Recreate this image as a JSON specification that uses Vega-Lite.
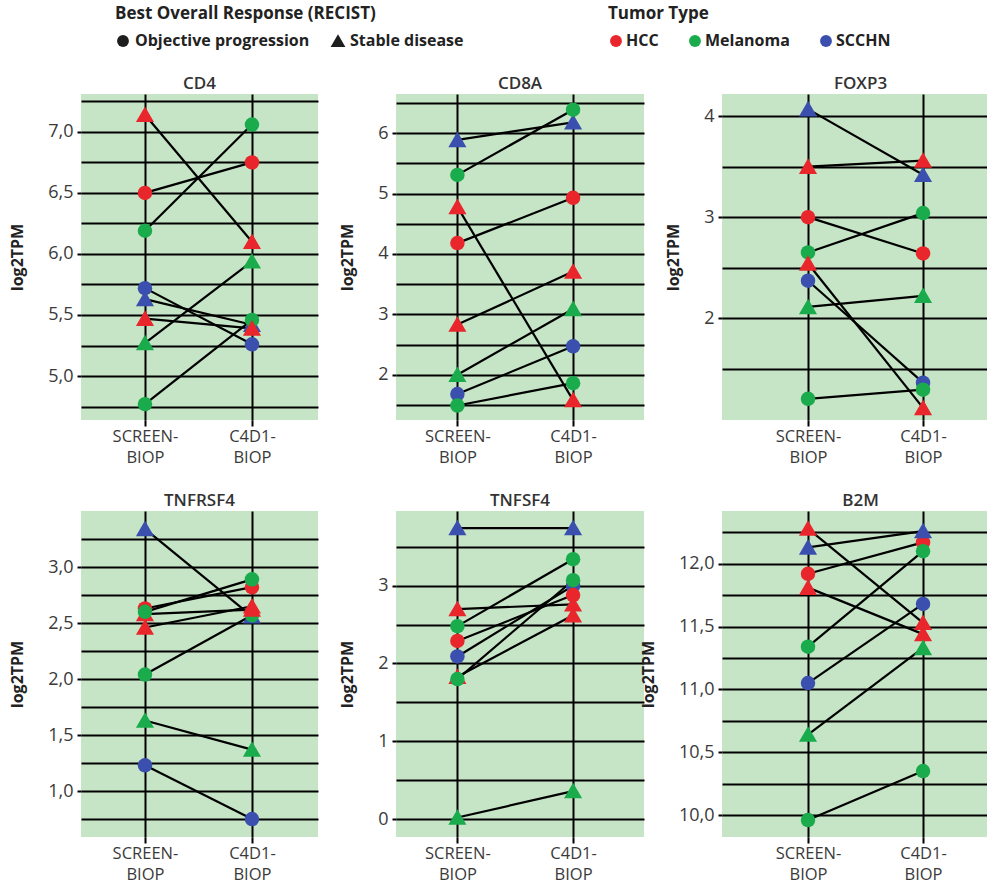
{
  "$schema": "https://vega.github.io/schema/vega-lite/v6.json",
  "padding": {"left": 9, "top": 6, "right": 0, "bottom": 0},
  "datasets": {
    "expr": [
      {"gene":"CD4","patient":"P4","tumor":"SCCHN","response":"Objective progression","time":"SCREEN-BIOP","value":5.72},
      {"gene":"CD4","patient":"P4","tumor":"SCCHN","response":"Objective progression","time":"C4D1-BIOP","value":5.26},
      {"gene":"CD4","patient":"P5","tumor":"SCCHN","response":"Stable disease","time":"SCREEN-BIOP","value":5.63},
      {"gene":"CD4","patient":"P5","tumor":"SCCHN","response":"Stable disease","time":"C4D1-BIOP","value":5.42},
      {"gene":"CD4","patient":"P3","tumor":"Melanoma","response":"Objective progression","time":"SCREEN-BIOP","value":6.19},
      {"gene":"CD4","patient":"P3","tumor":"Melanoma","response":"Objective progression","time":"C4D1-BIOP","value":7.06},
      {"gene":"CD4","patient":"P7","tumor":"Melanoma","response":"Stable disease","time":"SCREEN-BIOP","value":5.27},
      {"gene":"CD4","patient":"P7","tumor":"Melanoma","response":"Stable disease","time":"C4D1-BIOP","value":5.94},
      {"gene":"CD4","patient":"P8","tumor":"Melanoma","response":"Objective progression","time":"SCREEN-BIOP","value":4.77},
      {"gene":"CD4","patient":"P8","tumor":"Melanoma","response":"Objective progression","time":"C4D1-BIOP","value":5.46},
      {"gene":"CD4","patient":"P1","tumor":"HCC","response":"Stable disease","time":"SCREEN-BIOP","value":7.14},
      {"gene":"CD4","patient":"P1","tumor":"HCC","response":"Stable disease","time":"C4D1-BIOP","value":6.10},
      {"gene":"CD4","patient":"P2","tumor":"HCC","response":"Objective progression","time":"SCREEN-BIOP","value":6.50},
      {"gene":"CD4","patient":"P2","tumor":"HCC","response":"Objective progression","time":"C4D1-BIOP","value":6.75},
      {"gene":"CD4","patient":"P6","tumor":"HCC","response":"Stable disease","time":"SCREEN-BIOP","value":5.47},
      {"gene":"CD4","patient":"P6","tumor":"HCC","response":"Stable disease","time":"C4D1-BIOP","value":5.39},

      {"gene":"CD8A","patient":"P4","tumor":"SCCHN","response":"Objective progression","time":"SCREEN-BIOP","value":1.68},
      {"gene":"CD8A","patient":"P4","tumor":"SCCHN","response":"Objective progression","time":"C4D1-BIOP","value":2.47},
      {"gene":"CD8A","patient":"P5","tumor":"SCCHN","response":"Stable disease","time":"SCREEN-BIOP","value":5.89},
      {"gene":"CD8A","patient":"P5","tumor":"SCCHN","response":"Stable disease","time":"C4D1-BIOP","value":6.18},
      {"gene":"CD8A","patient":"P3","tumor":"Melanoma","response":"Objective progression","time":"SCREEN-BIOP","value":5.31},
      {"gene":"CD8A","patient":"P3","tumor":"Melanoma","response":"Objective progression","time":"C4D1-BIOP","value":6.39},
      {"gene":"CD8A","patient":"P7","tumor":"Melanoma","response":"Stable disease","time":"SCREEN-BIOP","value":2.00},
      {"gene":"CD8A","patient":"P7","tumor":"Melanoma","response":"Stable disease","time":"C4D1-BIOP","value":3.09},
      {"gene":"CD8A","patient":"P8","tumor":"Melanoma","response":"Objective progression","time":"SCREEN-BIOP","value":1.49},
      {"gene":"CD8A","patient":"P8","tumor":"Melanoma","response":"Objective progression","time":"C4D1-BIOP","value":1.86},
      {"gene":"CD8A","patient":"P1","tumor":"HCC","response":"Stable disease","time":"SCREEN-BIOP","value":4.78},
      {"gene":"CD8A","patient":"P1","tumor":"HCC","response":"Stable disease","time":"C4D1-BIOP","value":1.58},
      {"gene":"CD8A","patient":"P2","tumor":"HCC","response":"Objective progression","time":"SCREEN-BIOP","value":4.18},
      {"gene":"CD8A","patient":"P2","tumor":"HCC","response":"Objective progression","time":"C4D1-BIOP","value":4.93},
      {"gene":"CD8A","patient":"P6","tumor":"HCC","response":"Stable disease","time":"SCREEN-BIOP","value":2.83},
      {"gene":"CD8A","patient":"P6","tumor":"HCC","response":"Stable disease","time":"C4D1-BIOP","value":3.71},

      {"gene":"FOXP3","patient":"P4","tumor":"SCCHN","response":"Objective progression","time":"SCREEN-BIOP","value":2.37},
      {"gene":"FOXP3","patient":"P4","tumor":"SCCHN","response":"Objective progression","time":"C4D1-BIOP","value":1.36},
      {"gene":"FOXP3","patient":"P5","tumor":"SCCHN","response":"Stable disease","time":"SCREEN-BIOP","value":4.07},
      {"gene":"FOXP3","patient":"P5","tumor":"SCCHN","response":"Stable disease","time":"C4D1-BIOP","value":3.42},
      {"gene":"FOXP3","patient":"P3","tumor":"Melanoma","response":"Objective progression","time":"SCREEN-BIOP","value":2.65},
      {"gene":"FOXP3","patient":"P3","tumor":"Melanoma","response":"Objective progression","time":"C4D1-BIOP","value":3.04},
      {"gene":"FOXP3","patient":"P7","tumor":"Melanoma","response":"Stable disease","time":"SCREEN-BIOP","value":2.11},
      {"gene":"FOXP3","patient":"P7","tumor":"Melanoma","response":"Stable disease","time":"C4D1-BIOP","value":2.22},
      {"gene":"FOXP3","patient":"P8","tumor":"Melanoma","response":"Objective progression","time":"SCREEN-BIOP","value":1.20},
      {"gene":"FOXP3","patient":"P8","tumor":"Melanoma","response":"Objective progression","time":"C4D1-BIOP","value":1.29},
      {"gene":"FOXP3","patient":"P1","tumor":"HCC","response":"Stable disease","time":"SCREEN-BIOP","value":2.54},
      {"gene":"FOXP3","patient":"P1","tumor":"HCC","response":"Stable disease","time":"C4D1-BIOP","value":1.11},
      {"gene":"FOXP3","patient":"P2","tumor":"HCC","response":"Objective progression","time":"SCREEN-BIOP","value":3.00},
      {"gene":"FOXP3","patient":"P2","tumor":"HCC","response":"Objective progression","time":"C4D1-BIOP","value":2.64},
      {"gene":"FOXP3","patient":"P6","tumor":"HCC","response":"Stable disease","time":"SCREEN-BIOP","value":3.50},
      {"gene":"FOXP3","patient":"P6","tumor":"HCC","response":"Stable disease","time":"C4D1-BIOP","value":3.56},

      {"gene":"TNFRSF4","patient":"P4","tumor":"SCCHN","response":"Objective progression","time":"SCREEN-BIOP","value":1.23},
      {"gene":"TNFRSF4","patient":"P4","tumor":"SCCHN","response":"Objective progression","time":"C4D1-BIOP","value":0.75},
      {"gene":"TNFRSF4","patient":"P5","tumor":"SCCHN","response":"Stable disease","time":"SCREEN-BIOP","value":3.34},
      {"gene":"TNFRSF4","patient":"P5","tumor":"SCCHN","response":"Stable disease","time":"C4D1-BIOP","value":2.56},
      {"gene":"TNFRSF4","patient":"P8","tumor":"Melanoma","response":"Objective progression","time":"SCREEN-BIOP","value":2.04},
      {"gene":"TNFRSF4","patient":"P8","tumor":"Melanoma","response":"Objective progression","time":"C4D1-BIOP","value":2.57},
      {"gene":"TNFRSF4","patient":"P7","tumor":"Melanoma","response":"Stable disease","time":"SCREEN-BIOP","value":1.63},
      {"gene":"TNFRSF4","patient":"P7","tumor":"Melanoma","response":"Stable disease","time":"C4D1-BIOP","value":1.37},
      {"gene":"TNFRSF4","patient":"P1","tumor":"HCC","response":"Stable disease","time":"SCREEN-BIOP","value":2.58},
      {"gene":"TNFRSF4","patient":"P1","tumor":"HCC","response":"Stable disease","time":"C4D1-BIOP","value":2.62},
      {"gene":"TNFRSF4","patient":"P6","tumor":"HCC","response":"Stable disease","time":"SCREEN-BIOP","value":2.46},
      {"gene":"TNFRSF4","patient":"P6","tumor":"HCC","response":"Stable disease","time":"C4D1-BIOP","value":2.65},
      {"gene":"TNFRSF4","patient":"P2","tumor":"HCC","response":"Objective progression","time":"SCREEN-BIOP","value":2.63},
      {"gene":"TNFRSF4","patient":"P2","tumor":"HCC","response":"Objective progression","time":"C4D1-BIOP","value":2.82},
      {"gene":"TNFRSF4","patient":"P3","tumor":"Melanoma","response":"Objective progression","time":"SCREEN-BIOP","value":2.60},
      {"gene":"TNFRSF4","patient":"P3","tumor":"Melanoma","response":"Objective progression","time":"C4D1-BIOP","value":2.89},

      {"gene":"TNFSF4","patient":"P4","tumor":"SCCHN","response":"Objective progression","time":"SCREEN-BIOP","value":2.09},
      {"gene":"TNFSF4","patient":"P4","tumor":"SCCHN","response":"Objective progression","time":"C4D1-BIOP","value":3.00},
      {"gene":"TNFSF4","patient":"P5","tumor":"SCCHN","response":"Stable disease","time":"SCREEN-BIOP","value":3.74},
      {"gene":"TNFSF4","patient":"P5","tumor":"SCCHN","response":"Stable disease","time":"C4D1-BIOP","value":3.74},
      {"gene":"TNFSF4","patient":"P1","tumor":"HCC","response":"Stable disease","time":"SCREEN-BIOP","value":1.83},
      {"gene":"TNFSF4","patient":"P1","tumor":"HCC","response":"Stable disease","time":"C4D1-BIOP","value":2.62},
      {"gene":"TNFSF4","patient":"P2","tumor":"HCC","response":"Objective progression","time":"SCREEN-BIOP","value":2.29},
      {"gene":"TNFSF4","patient":"P2","tumor":"HCC","response":"Objective progression","time":"C4D1-BIOP","value":2.88},
      {"gene":"TNFSF4","patient":"P6","tumor":"HCC","response":"Stable disease","time":"SCREEN-BIOP","value":2.70},
      {"gene":"TNFSF4","patient":"P6","tumor":"HCC","response":"Stable disease","time":"C4D1-BIOP","value":2.76},
      {"gene":"TNFSF4","patient":"P3","tumor":"Melanoma","response":"Objective progression","time":"SCREEN-BIOP","value":2.48},
      {"gene":"TNFSF4","patient":"P3","tumor":"Melanoma","response":"Objective progression","time":"C4D1-BIOP","value":3.34},
      {"gene":"TNFSF4","patient":"P7","tumor":"Melanoma","response":"Stable disease","time":"SCREEN-BIOP","value":0.02},
      {"gene":"TNFSF4","patient":"P7","tumor":"Melanoma","response":"Stable disease","time":"C4D1-BIOP","value":0.36},
      {"gene":"TNFSF4","patient":"P8","tumor":"Melanoma","response":"Objective progression","time":"SCREEN-BIOP","value":1.80},
      {"gene":"TNFSF4","patient":"P8","tumor":"Melanoma","response":"Objective progression","time":"C4D1-BIOP","value":3.07},

      {"gene":"B2M","patient":"P4","tumor":"SCCHN","response":"Objective progression","time":"SCREEN-BIOP","value":11.05},
      {"gene":"B2M","patient":"P4","tumor":"SCCHN","response":"Objective progression","time":"C4D1-BIOP","value":11.68},
      {"gene":"B2M","patient":"P1","tumor":"HCC","response":"Stable disease","time":"SCREEN-BIOP","value":12.28},
      {"gene":"B2M","patient":"P1","tumor":"HCC","response":"Stable disease","time":"C4D1-BIOP","value":11.53},
      {"gene":"B2M","patient":"P2","tumor":"HCC","response":"Objective progression","time":"SCREEN-BIOP","value":11.92},
      {"gene":"B2M","patient":"P2","tumor":"HCC","response":"Objective progression","time":"C4D1-BIOP","value":12.17},
      {"gene":"B2M","patient":"P6","tumor":"HCC","response":"Stable disease","time":"SCREEN-BIOP","value":11.81},
      {"gene":"B2M","patient":"P6","tumor":"HCC","response":"Stable disease","time":"C4D1-BIOP","value":11.44},
      {"gene":"B2M","patient":"P5","tumor":"SCCHN","response":"Stable disease","time":"SCREEN-BIOP","value":12.13},
      {"gene":"B2M","patient":"P5","tumor":"SCCHN","response":"Stable disease","time":"C4D1-BIOP","value":12.26},
      {"gene":"B2M","patient":"P3","tumor":"Melanoma","response":"Objective progression","time":"SCREEN-BIOP","value":11.34},
      {"gene":"B2M","patient":"P3","tumor":"Melanoma","response":"Objective progression","time":"C4D1-BIOP","value":12.10},
      {"gene":"B2M","patient":"P7","tumor":"Melanoma","response":"Stable disease","time":"SCREEN-BIOP","value":10.64},
      {"gene":"B2M","patient":"P7","tumor":"Melanoma","response":"Stable disease","time":"C4D1-BIOP","value":11.33},
      {"gene":"B2M","patient":"P8","tumor":"Melanoma","response":"Objective progression","time":"SCREEN-BIOP","value":9.96},
      {"gene":"B2M","patient":"P8","tumor":"Melanoma","response":"Objective progression","time":"C4D1-BIOP","value":10.35}
    ]
  },
  "data": {"name": "expr"},
  "columns": 3,
  "bounds": "flush",
  "align": "each",
  "spacing": {"row": 91, "column": 78},
  "resolve": {"scale": {"color": "shared", "shape": "shared", "x": "independent", "y": "independent"}},
  "concat": [
    {
      "title": "CD4", "width": 237, "height": 326,
      "transform": [{"filter": "datum.gene === 'CD4'"}],
      "encoding": {
        "x": {"field": "time", "type": "nominal", "sort": ["SCREEN-BIOP", "C4D1-BIOP"], "scale": {"type": "point", "padding": 0.6075, "align": 0.492},
              "axis": {"title": null, "labelExpr": "datum.value == 'SCREEN-BIOP' ? ['SCREEN-', 'BIOP'] : ['C4D1-', 'BIOP']"}},
        "y": {"field": "value", "type": "quantitative", "scale": {"domain": [4.64, 7.31], "nice": false, "zero": false},
              "axis": {"title": "log2TPM", "values": [4.75, 5, 5.25, 5.5, 5.75, 6, 6.25, 6.5, 6.75, 7, 7.25],
                       "labelExpr": "datum.value % 0.5 === 0 ? replace(format(datum.value, '.1f'), '.', ',') : ''",
                       "tickOpacity": {"condition": {"test": "datum.value % 0.5 === 0", "value": 1}, "value": 0}}}
      },
      "layer": [
        {"mark": {"type": "line", "color": "black", "strokeWidth": 2.2}, "encoding": {"detail": {"field": "patient"}}},
        {"mark": {"type": "point", "filled": true, "size": 210, "opacity": 1},
         "encoding": {
           "color": {"field": "tumor", "type": "nominal", "scale": {"domain": ["HCC", "Melanoma", "SCCHN"], "range": ["#e8262b", "#1aab4c", "#3b4fae"]},
                     "legend": {"title": "Tumor Type", "orient": "none", "legendX": 527, "legendY": -88, "symbolType": "circle", "labelOffset": 2, "symbolStrokeWidth": 0, "columnPadding": 28}},
           "shape": {"field": "response", "type": "nominal", "scale": {"domain": ["Objective progression", "Stable disease"], "range": ["circle", "M0,-1.15L1.25,1L-1.25,1Z"]},
                     "legend": {"title": "Best Overall Response (RECIST)", "orient": "none", "legendX": 34, "legendY": -88, "symbolFillColor": "#1e1e1e", "symbolStrokeWidth": 0, "labelOffset": 4}}
         }}
      ]
    },
    {
      "title": "CD8A", "width": 248, "height": 326,
      "transform": [{"filter": "datum.gene === 'CD8A'"}],
      "encoding": {
        "x": {"field": "time", "type": "nominal", "sort": ["SCREEN-BIOP", "C4D1-BIOP"], "scale": {"type": "point", "padding": 0.572, "align": 0.464},
              "axis": {"title": null, "labelExpr": "datum.value == 'SCREEN-BIOP' ? ['SCREEN-', 'BIOP'] : ['C4D1-', 'BIOP']"}},
        "y": {"field": "value", "type": "quantitative", "scale": {"domain": [1.25, 6.65], "nice": false, "zero": false},
              "axis": {"title": "log2TPM", "values": [1.5, 2, 2.5, 3, 3.5, 4, 4.5, 5, 5.5, 6, 6.5],
                       "labelExpr": "datum.value % 1 === 0 ? format(datum.value, 'd') : ''",
                       "tickOpacity": {"condition": {"test": "datum.value % 1 === 0", "value": 1}, "value": 0}}}
      },
      "layer": [
        {"mark": {"type": "line", "color": "black", "strokeWidth": 2.2}, "encoding": {"detail": {"field": "patient"}}},
        {"mark": {"type": "point", "filled": true, "size": 210, "opacity": 1},
         "encoding": {
           "color": {"field": "tumor", "type": "nominal"},
           "shape": {"field": "response", "type": "nominal"}
         }}
      ]
    },
    {
      "title": "FOXP3", "width": 277, "height": 326,
      "transform": [{"filter": "datum.gene === 'FOXP3'"}],
      "encoding": {
        "x": {"field": "time", "type": "nominal", "sort": ["SCREEN-BIOP", "C4D1-BIOP"], "scale": {"type": "point", "padding": 0.704, "align": 0.531},
              "axis": {"title": null, "labelExpr": "datum.value == 'SCREEN-BIOP' ? ['SCREEN-', 'BIOP'] : ['C4D1-', 'BIOP']"}},
        "y": {"field": "value", "type": "quantitative", "scale": {"domain": [0.99, 4.22], "nice": false, "zero": false},
              "axis": {"title": "log2TPM", "values": [1.5, 2, 2.5, 3, 3.5, 4],
                       "labelExpr": "datum.value % 1 === 0 ? format(datum.value, 'd') : ''",
                       "tickOpacity": {"condition": {"test": "datum.value % 1 === 0", "value": 1}, "value": 0}}}
      },
      "layer": [
        {"mark": {"type": "line", "color": "black", "strokeWidth": 2.2}, "encoding": {"detail": {"field": "patient"}}},
        {"mark": {"type": "point", "filled": true, "size": 210, "opacity": 1},
         "encoding": {
           "color": {"field": "tumor", "type": "nominal"},
           "shape": {"field": "response", "type": "nominal"}
         }}
      ]
    },
    {
      "title": "TNFRSF4", "width": 237, "height": 326,
      "transform": [{"filter": "datum.gene === 'TNFRSF4'"}],
      "encoding": {
        "x": {"field": "time", "type": "nominal", "sort": ["SCREEN-BIOP", "C4D1-BIOP"], "scale": {"type": "point", "padding": 0.6075, "align": 0.492},
              "axis": {"title": null, "labelExpr": "datum.value == 'SCREEN-BIOP' ? ['SCREEN-', 'BIOP'] : ['C4D1-', 'BIOP']"}},
        "y": {"field": "value", "type": "quantitative", "scale": {"domain": [0.59, 3.5], "nice": false, "zero": false},
              "axis": {"title": "log2TPM", "values": [0.75, 1, 1.25, 1.5, 1.75, 2, 2.25, 2.5, 2.75, 3, 3.25],
                       "labelExpr": "datum.value % 0.5 === 0 ? replace(format(datum.value, '.1f'), '.', ',') : ''",
                       "tickOpacity": {"condition": {"test": "datum.value % 0.5 === 0", "value": 1}, "value": 0}}}
      },
      "layer": [
        {"mark": {"type": "line", "color": "black", "strokeWidth": 2.2}, "encoding": {"detail": {"field": "patient"}}},
        {"mark": {"type": "point", "filled": true, "size": 210, "opacity": 1},
         "encoding": {
           "color": {"field": "tumor", "type": "nominal"},
           "shape": {"field": "response", "type": "nominal"}
         }}
      ]
    },
    {
      "title": "TNFSF4", "width": 248, "height": 326,
      "transform": [{"filter": "datum.gene === 'TNFSF4'"}],
      "encoding": {
        "x": {"field": "time", "type": "nominal", "sort": ["SCREEN-BIOP", "C4D1-BIOP"], "scale": {"type": "point", "padding": 0.572, "align": 0.464},
              "axis": {"title": null, "labelExpr": "datum.value == 'SCREEN-BIOP' ? ['SCREEN-', 'BIOP'] : ['C4D1-', 'BIOP']"}},
        "y": {"field": "value", "type": "quantitative", "scale": {"domain": [-0.23, 3.96], "nice": false, "zero": false},
              "axis": {"title": "log2TPM", "values": [0, 0.5, 1, 1.5, 2, 2.5, 3, 3.5],
                       "labelExpr": "datum.value % 1 === 0 ? format(datum.value, 'd') : ''",
                       "tickOpacity": {"condition": {"test": "datum.value % 1 === 0", "value": 1}, "value": 0}}}
      },
      "layer": [
        {"mark": {"type": "line", "color": "black", "strokeWidth": 2.2}, "encoding": {"detail": {"field": "patient"}}},
        {"mark": {"type": "point", "filled": true, "size": 210, "opacity": 1},
         "encoding": {
           "color": {"field": "tumor", "type": "nominal"},
           "shape": {"field": "response", "type": "nominal"}
         }}
      ]
    },
    {
      "title": "B2M", "width": 277, "height": 326,
      "transform": [{"filter": "datum.gene === 'B2M'"}],
      "encoding": {
        "x": {"field": "time", "type": "nominal", "sort": ["SCREEN-BIOP", "C4D1-BIOP"], "scale": {"type": "point", "padding": 0.704, "align": 0.531},
              "axis": {"title": null, "labelExpr": "datum.value == 'SCREEN-BIOP' ? ['SCREEN-', 'BIOP'] : ['C4D1-', 'BIOP']"}},
        "y": {"field": "value", "type": "quantitative", "scale": {"domain": [9.825, 12.42], "nice": false, "zero": false},
              "axis": {"title": "log2TPM", "values": [10, 10.25, 10.5, 10.75, 11, 11.25, 11.5, 11.75, 12, 12.25],
                       "labelExpr": "datum.value % 0.5 === 0 ? replace(format(datum.value, '.1f'), '.', ',') : ''",
                       "tickOpacity": {"condition": {"test": "datum.value % 0.5 === 0", "value": 1}, "value": 0}}}
      },
      "layer": [
        {"mark": {"type": "line", "color": "black", "strokeWidth": 2.2}, "encoding": {"detail": {"field": "patient"}}},
        {"mark": {"type": "point", "filled": true, "size": 210, "opacity": 1},
         "encoding": {
           "color": {"field": "tumor", "type": "nominal"},
           "shape": {"field": "response", "type": "nominal"}
         }}
      ]
    }
  ],
  "config": {
    "font": "Open Sans",
    "view": {"fill": "#c6e5c6", "stroke": null},
    "axis": {"domain": false, "grid": true, "gridColor": "black", "gridWidth": 2, "gridOpacity": 1, "tickColor": "black", "tickWidth": 2,
             "labelFontSize": 18, "labelColor": "#3a3a3a", "titleFontSize": 16, "titleFontWeight": "bold", "titleColor": "#222"},
    "axisX": {"tickSize": 6, "labelPadding": 2, "labelAngle": 0, "labelFontSize": 16.5, "labelLineHeight": 21, "labelBaseline": "top"},
    "axisY": {"tickSize": 4, "labelPadding": 4, "titlePadding": 22},
    "title": {"fontSize": 17, "fontWeight": 600, "color": "#333", "offset": 1, "frame": "group"},
    "legend": {"direction": "horizontal", "titleFontSize": 17, "titleFontWeight": "bold", "titleColor": "#222", "titleLimit": 600,
               "labelFontSize": 16, "labelFontWeight": "bold", "labelColor": "#222", "labelLimit": 400, "symbolSize": 140, "columnPadding": 20, "titlePadding": 10}
  }
}
